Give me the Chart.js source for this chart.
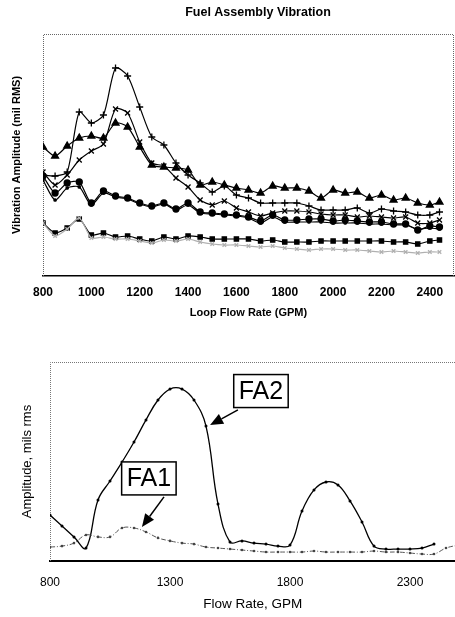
<!DOCTYPE html>
<html>
<head>
<meta charset="utf-8">
<script src="https://cdn.jsdelivr.net/npm/chart.js@4.4.1/dist/chart.umd.min.js"></script>
<style>
  html, body { margin: 0; padding: 0; background: #fff; overflow: hidden; }
  #page { position: relative; width: 455px; height: 617px; overflow: hidden; }
  #top { position: absolute; left: 0; top: 0; }
  #bottom { position: absolute; left: 0; top: 350px; }
</style>
</head>
<body>
<div id="page">
  <canvas id="top" width="455" height="330"></canvas>
  <canvas id="bottom" width="470" height="267"></canvas>
</div>
<script>
// upper plot: loop flow rate (GPM) and vibration amplitude of each assembly
const flowTop = [800, 850, 900, 950, 1000, 1050, 1100, 1150, 1200, 1250, 1300, 1350, 1400, 1450, 1500, 1550, 1600,
  1650, 1700, 1750, 1800, 1850, 1900, 1950, 2000, 2050, 2100, 2150, 2200, 2250, 2300, 2350, 2400, 2440];
const ampTriangle = [6.45, 6.00, 6.50, 6.90, 7.00, 6.90, 7.65, 7.45, 6.45, 5.55, 5.45, 5.40, 5.30, 4.55, 4.70, 4.55, 4.40,
  4.30, 4.15, 4.50, 4.40, 4.40, 4.25, 3.90, 4.30, 4.15, 4.20, 3.90, 4.05, 3.80, 3.90, 3.65, 3.55, 3.70];
const ampPlus = [5.05, 5.00, 5.20, 8.20, 7.65, 8.05, 10.40, 10.00, 8.45, 6.95, 6.55, 5.65, 5.05, 4.65, 4.20, 4.50, 4.05,
  3.90, 3.65, 3.65, 3.65, 3.65, 3.50, 3.30, 3.30, 3.30, 3.40, 3.15, 3.35, 3.25, 3.20, 3.05, 3.05, 3.20];
const ampCross = [5.20, 4.55, 5.05, 5.80, 6.25, 6.60, 8.35, 8.15, 6.70, 5.65, 5.50, 4.90, 4.45, 3.80, 3.55, 3.75, 3.40,
  3.20, 3.00, 3.15, 3.25, 3.25, 3.20, 3.10, 3.05, 3.05, 2.95, 3.00, 2.95, 2.90, 2.95, 2.65, 2.65, 2.80];
const ampCircle = [5.00, 4.15, 4.65, 4.70, 3.65, 4.25, 4.00, 3.90, 3.65, 3.50, 3.65, 3.35, 3.65, 3.20, 3.15, 3.10, 3.05,
  2.95, 2.75, 3.05, 2.80, 2.80, 2.85, 2.85, 2.75, 2.80, 2.75, 2.70, 2.70, 2.60, 2.60, 2.30, 2.50, 2.45];
const ampPlain = [4.80, 3.80, 4.40, 4.45, 3.55, 4.15, 3.95, 3.85, 3.60, 3.45, 3.60, 3.30, 3.55, 3.15, 3.10, 3.05, 3.00,
  2.90, 2.65, 2.95, 2.70, 2.70, 2.70, 2.70, 2.65, 2.65, 2.65, 2.60, 2.60, 2.55, 2.55, 2.35, 2.40, 2.35];
const ampSquare = [2.65, 2.15, 2.40, 2.85, 2.05, 2.15, 1.95, 2.00, 1.85, 1.75, 1.95, 1.85, 2.00, 1.95, 1.85, 1.85, 1.85,
  1.85, 1.75, 1.80, 1.70, 1.70, 1.70, 1.75, 1.75, 1.75, 1.75, 1.75, 1.75, 1.70, 1.70, 1.60, 1.75, 1.80];
const ampGrey = [2.65, 2.00, 2.35, 2.90, 1.90, 1.95, 1.85, 1.85, 1.75, 1.65, 1.80, 1.75, 1.85, 1.70, 1.60, 1.55, 1.55,
  1.50, 1.45, 1.50, 1.40, 1.35, 1.30, 1.35, 1.35, 1.30, 1.30, 1.25, 1.20, 1.25, 1.20, 1.15, 1.20, 1.20];
const topTicks = [800, 1000, 1200, 1400, 1600, 1800, 2000, 2200, 2400];

// lower plot: FA1 / FA2 amplitude vs flow rate
const flowFA2 = [800, 850, 900, 950, 1000, 1050, 1100, 1150, 1200, 1250, 1300, 1350, 1400, 1450, 1500, 1550, 1600,
  1650, 1700, 1750, 1800, 1850, 1900, 1950, 2000, 2050, 2100, 2150, 2200, 2250, 2300, 2350, 2400];
const ampFA2 = [2.31, 1.76, 1.21, 0.65, 3.07, 4.02, 4.97, 5.98, 7.09, 8.09, 8.64, 8.64, 8.09, 6.78, 2.86, 0.95, 1.01,
  0.90, 0.85, 0.75, 0.80, 2.51, 3.57, 3.97, 3.82, 3.02, 1.96, 0.75, 0.60, 0.60, 0.60, 0.65, 0.85];
const flowFA1 = [800, 850, 900, 950, 1000, 1050, 1100, 1150, 1200, 1250, 1300, 1350, 1400, 1450, 1500, 1550, 1600,
  1650, 1700, 1750, 1800, 1850, 1900, 1950, 2000, 2050, 2100, 2150, 2200, 2250, 2300, 2350, 2400, 2450, 2500];
const ampFA1 = [0.70, 0.75, 0.90, 1.31, 1.21, 1.21, 1.66, 1.66, 1.46, 1.16, 1.01, 0.90, 0.85, 0.70, 0.65, 0.60, 0.55,
  0.50, 0.45, 0.45, 0.45, 0.45, 0.50, 0.45, 0.45, 0.45, 0.45, 0.50, 0.45, 0.45, 0.40, 0.35, 0.35, 0.65, 0.80];
const bottomTicks = [800, 1300, 1800, 2300];

Chart.defaults.font.family = "'Liberation Sans', Arial, sans-serif";
Chart.defaults.color = '#000';

function points(xs, ys) {
    return xs.map((x, i) => ({ x: x, y: ys[i] }));
}

function keepTicks(list) {
    return function(scale) {
        scale.ticks = list.map(v => ({ value: v }));
    };
}

function plainLabel(value) {
    return String(value);
}

// dotted box round the plot area
const framePlugin = {
    id: 'frame',
    beforeDatasetsDraw(chart, args, opts) {
        const a = chart.chartArea;
        const ctx = chart.ctx;
        const l = Math.round(a.left) + 0.5, t = Math.round(a.top) + 0.5;
        const r = Math.round(a.right) - 0.5, b = Math.round(a.bottom);
        ctx.save();
        ctx.strokeStyle = opts.color;
        ctx.lineWidth = 1;
        ctx.setLineDash([1, 1]);
        ctx.beginPath();
        ctx.moveTo(l, b);
        ctx.lineTo(l, t);
        ctx.lineTo(r, t);
        if (opts.right) ctx.lineTo(r, b);
        ctx.stroke();
        ctx.restore();
    }
};

const headingPlugin = {
    id: 'heading',
    afterDraw(chart, args, opts) {
        if (!opts.text) return;
        const ctx = chart.ctx;
        ctx.save();
        ctx.font = opts.font;
        ctx.fillStyle = '#000';
        ctx.textAlign = 'center';
        ctx.textBaseline = 'middle';
        ctx.fillText(opts.text, opts.x, opts.y);
        ctx.restore();
    }
};

// boxed labels with arrows, placed in data units
const calloutPlugin = {
    id: 'callouts',
    afterDatasetsDraw(chart, args, opts) {
        const xs = chart.scales.x, ys = chart.scales.y, ctx = chart.ctx;
        (opts.items || []).forEach(c => {
            const x0 = xs.getPixelForValue(c.from[0]), y0 = ys.getPixelForValue(c.from[1]);
            const x1 = xs.getPixelForValue(c.to[0]), y1 = ys.getPixelForValue(c.to[1]);
            const ang = Math.atan2(y1 - y0, x1 - x0);
            const bx = x1 - opts.head * Math.cos(ang), by = y1 - opts.head * Math.sin(ang);
            const hw = opts.headWidth / 2;
            ctx.save();
            ctx.strokeStyle = '#000';
            ctx.fillStyle = '#000';
            ctx.lineWidth = 1.5;
            ctx.beginPath();
            ctx.moveTo(x0, y0);
            ctx.lineTo(bx, by);
            ctx.stroke();
            ctx.beginPath();
            ctx.moveTo(x1, y1);
            ctx.lineTo(bx + hw * Math.sin(ang), by - hw * Math.cos(ang));
            ctx.lineTo(bx - hw * Math.sin(ang), by + hw * Math.cos(ang));
            ctx.closePath();
            ctx.fill();

            const cx = xs.getPixelForValue(c.at[0]), cy = ys.getPixelForValue(c.at[1]);
            ctx.font = opts.font;
            const w = ctx.measureText(c.text).width + 2 * opts.padX, h = opts.boxHeight;
            ctx.fillStyle = '#fff';
            ctx.fillRect(cx - w / 2, cy - h / 2, w, h);
            ctx.strokeRect(cx - w / 2, cy - h / 2, w, h);
            ctx.fillStyle = '#000';
            ctx.textAlign = 'center';
            ctx.textBaseline = 'middle';
            ctx.fillText(c.text, cx, cy + 1);
            ctx.restore();
        });
    }
};

function topSet(ys, style, radius, color) {
    return {
        data: points(flowTop, ys),
        borderColor: color,
        backgroundColor: color,
        borderWidth: 1.2,
        pointStyle: style,
        pointRadius: radius,
        pointBorderWidth: 1.3,
        tension: 0.25
    };
}

new Chart(document.getElementById('top'), {
    type: 'line',
    data: {
        datasets: [
            topSet(ampGrey, 'crossRot', 2.5, '#b0b0b0'),
            topSet(ampSquare, 'rect', 3, '#000'),
            topSet(ampPlain, 'circle', 1.2, '#000'),
            topSet(ampCircle, 'circle', 3, '#000'),
            topSet(ampCross, 'crossRot', 3.5, '#000'),
            topSet(ampPlus, 'cross', 3.5, '#000'),
            topSet(ampTriangle, 'triangle', 4, '#000')
        ]
    },
    plugins: [framePlugin, headingPlugin],
    options: {
        responsive: false,
        animation: false,
        devicePixelRatio: 1,
        layout: { autoPadding: false, padding: { top: 34, left: 4, right: 1, bottom: 6.4 } },
        plugins: {
            legend: { display: false },
            tooltip: { enabled: false },
            frame: { color: '#666', right: true },
            heading: {
                text: 'Fuel Assembly Vibration',
                font: "bold 12.5px 'Liberation Sans', Arial, sans-serif",
                x: 258, y: 13
            }
        },
        scales: {
            x: {
                type: 'linear',
                min: 800,
                max: 2500,
                afterBuildTicks: keepTicks(topTicks),
                grid: { display: false, drawTicks: false },
                border: { display: true, color: '#000', width: 1.5 },
                ticks: { font: { size: 12, weight: 'bold' }, padding: 9, maxRotation: 0, callback: plainLabel },
                title: {
                    display: true,
                    text: 'Loop Flow Rate (GPM)',
                    font: { size: 11, weight: 'bold' },
                    padding: { top: -2, bottom: 4 }
                }
            },
            y: {
                min: 0,
                max: 12.1,
                grid: { display: false, drawTicks: false },
                border: { display: false },
                ticks: { display: false },
                title: {
                    display: true,
                    text: 'Vibration Amplitude (mil RMS)',
                    font: { size: 11, weight: 'bold' },
                    padding: { top: 6.4, bottom: 19.4 }
                }
            }
        }
    }
});

new Chart(document.getElementById('bottom'), {
    type: 'line',
    data: {
        datasets: [
            {
                label: 'FA1',
                data: points(flowFA1, ampFA1),
                borderColor: '#555',
                backgroundColor: '#444',
                borderWidth: 1,
                borderDash: [5, 2, 1, 2],
                pointRadius: 1.3,
                pointBorderWidth: 0,
                tension: 0.4
            },
            {
                label: 'FA2',
                data: points(flowFA2, ampFA2),
                borderColor: '#000',
                backgroundColor: '#000',
                borderWidth: 1.3,
                pointRadius: 1.5,
                pointBorderWidth: 0,
                tension: 0.4
            }
        ]
    },
    plugins: [framePlugin, calloutPlugin],
    options: {
        responsive: false,
        animation: false,
        devicePixelRatio: 1,
        layout: { autoPadding: false, padding: { top: 12, left: 4, right: 14.4, bottom: 2.4 } },
        plugins: {
            legend: { display: false },
            tooltip: { enabled: false },
            frame: { color: '#777', right: false },
            callouts: {
                font: "25px 'Liberation Sans', Arial, sans-serif",
                padX: 5,
                boxHeight: 33,
                head: 13,
                headWidth: 11,
                items: [
                    { text: 'FA2', at: [1679, 8.54], from: [1583, 7.59], to: [1467, 6.83] },
                    { text: 'FA1', at: [1212, 4.15], from: [1275, 3.22], to: [1183, 1.71] }
                ]
            }
        },
        scales: {
            x: {
                type: 'linear',
                min: 800,
                max: 2490,
                afterBuildTicks: keepTicks(bottomTicks),
                grid: { display: false, drawTicks: false },
                border: { display: true, color: '#000', width: 2 },
                ticks: { font: { size: 12 }, padding: 14, maxRotation: 0, callback: plainLabel },
                title: {
                    display: true,
                    text: 'Flow Rate, GPM',
                    font: { size: 13.5 },
                    padding: { top: -7, bottom: 2 }
                }
            },
            y: {
                min: 0,
                max: 10,
                grid: { display: false, drawTicks: false },
                border: { display: false },
                ticks: { display: false },
                title: {
                    display: true,
                    text: 'Amplitude, mils rms',
                    font: { size: 13 },
                    padding: { top: 15.2, bottom: 15.2 }
                }
            }
        }
    }
});
</script>
</body>
</html>
